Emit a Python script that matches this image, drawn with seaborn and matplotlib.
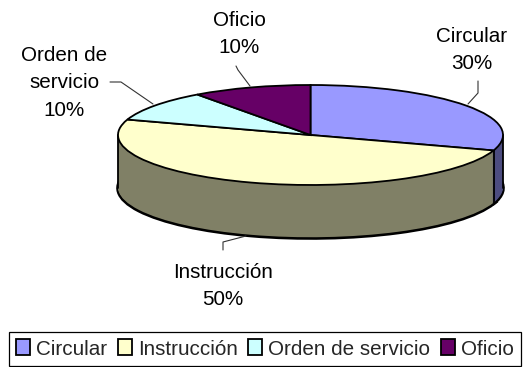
import numpy as np
import matplotlib
matplotlib.use('Agg')
import matplotlib.pyplot as plt
import seaborn as sns

categories = ['Circular', 'Instrucción', 'Orden de servicio', 'Oficio']
values = [30, 50, 10, 10]
pct_labels = ['30%', '50%', '10%', '10%']
top_colors = ['#9999FF', '#FFFFCC', '#CCFFFF', '#660066']
wall_colors = ['#4D4D80', '#808066', '#668080', '#330033']

sns.set_style('white')
plt.rcParams['font.family'] = ['Liberation Sans', 'DejaVu Sans']

W, H = 523, 367
cx, cy = 310.5, 135    # pie centre in pixels
rx, ry = 192.5, 50     # ellipse radii in pixels
depth = 53 / ry        # wall height in y units
lw = 1.3
fs = 14.9


def px(x, y):
    # picture pixels -> squashed data coords
    return (x - cx) / rx, (cy - y) / ry


fig = plt.figure(figsize=(W / 100, H / 100), dpi=100, facecolor='white')
ax = fig.add_axes([0, 0, 1, 1])

# side wall: outline of the bottom, then stacked copies up to the top face
ax.pie(values, colors=wall_colors, startangle=90, counterclock=False, center=(0, -depth),
       wedgeprops={'edgecolor': 'black', 'linewidth': lw * 2})
for d in np.linspace(depth, 0, 70)[1:]:
    ax.pie(values, colors=wall_colors, startangle=90, counterclock=False, center=(0, -d),
           wedgeprops={'linewidth': 0})

# vertical wall edges
angle = np.deg2rad(90 - 360 * values[0] / sum(values))
for x, y in [(-1, 0), (1, 0), (np.cos(angle), np.sin(angle))]:
    ax.plot([x, x], [y, y - depth], color='black', lw=lw, zorder=3)

wedges, _ = ax.pie(values, colors=top_colors, startangle=90, counterclock=False,
                   wedgeprops={'edgecolor': 'black', 'linewidth': lw})
for w in wedges:
    w.set_zorder(4)

# data labels
label_pos = [(472, 50), (223, 286), (64, 83), (239, 34)]
label_text = ['Circular', 'Instrucción', 'Orden de\nservicio', 'Oficio']
for txt, pct, (x, y) in zip(label_text, pct_labels, label_pos):
    tx, ty = px(x, y)
    ax.text(tx, ty, txt + '\n' + pct, ha='center', va='center', fontsize=fs,
            linespacing=1.55, color='black', zorder=5)

# leader lines
leaders = [
    [(478, 81), (478, 93), (468, 104)],
    [(223, 250), (223, 242), (246, 236)],
    [(110, 82), (121, 82), (153, 104)],
    [(236, 66), (238, 70), (250, 86)],
]
for pts in leaders:
    xy = np.array([px(a, b) for a, b in pts])
    ax.plot(xy[:, 0], xy[:, 1], color='#333333', lw=0.8, zorder=3)

leg = ax.legend(wedges, categories, loc='lower left',
                bbox_to_anchor=(9 / W, 1 / H, 512 / W, 34 / H),
                bbox_transform=fig.transFigure, ncol=4, fontsize=fs, mode='expand',
                frameon=True, fancybox=False, edgecolor='black', framealpha=1,
                borderaxespad=0, borderpad=0.36, handlelength=0.66, handleheight=0.8,
                handletextpad=0.29, columnspacing=0.53)
leg.get_frame().set_linewidth(0.9)
leg.set_zorder(6)

# pie() forces an equal aspect, undo it so the disc lies flat
ax.set_aspect('auto')
ax.set_xlim((0 - cx) / rx, (W - cx) / rx)
ax.set_ylim((cy - H) / ry, cy / ry)
ax.axis('off')

fig.savefig('out.png', dpi=100, facecolor='white')
